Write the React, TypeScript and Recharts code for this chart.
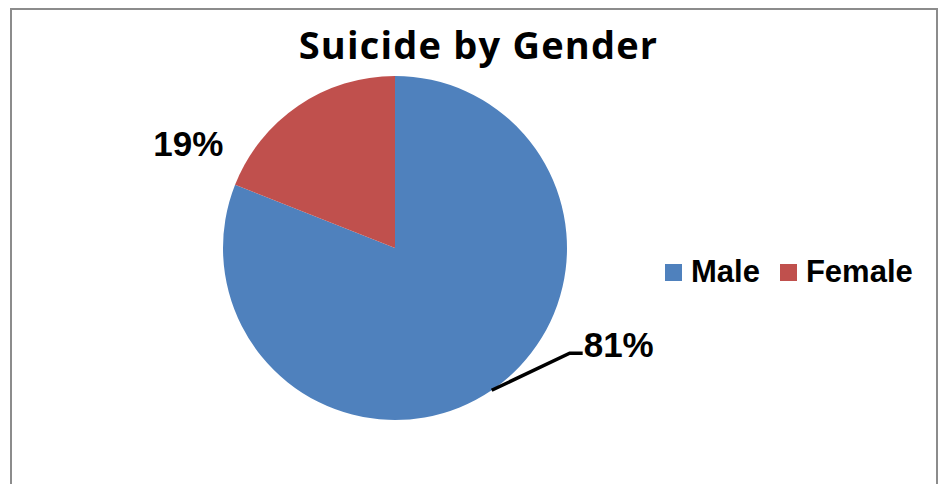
import React from "react";
import { PieChart, Pie, Cell, Legend } from "recharts";

const categories = ["Male", "Female"];
const shares = [81, 19];
const colors = ["#4F81BD", "#C0504D"];
const title = "Suicide by Gender";

const data = categories.map((name, i) => ({ name, value: shares[i] }));

const RAD = Math.PI / 180;
const labelFont = { fontFamily: "Liberation Sans, Arial, sans-serif", fontWeight: 700, fontSize: 35 };

const renderLabel = (props: any) => {
  const { cx, cy, midAngle, outerRadius, index, value } = props;
  const ax = cx + outerRadius * Math.cos(-midAngle * RAD);
  const ay = cy + outerRadius * Math.sin(-midAngle * RAD);
  const text = `${value}%`;
  if (index === 0) {
    const bx = ax + 78;
    const by = ay - 37;
    return (
      <g>
        <polyline points={`${ax},${ay} ${bx},${by} ${bx + 13},${by}`} fill="none" stroke="#000" strokeWidth={3.5} />
        <text x={bx + 14} y={by + 4} fill="#000" textAnchor="start" style={labelFont}>
          {text}
        </text>
      </g>
    );
  }
  return (
    <text x={ax - 75} y={ay + 50} fill="#000" textAnchor="end" style={labelFont}>
      {text}
    </text>
  );
};

const LegendContent = () => {
  return (
    <div style={{ display: "flex", alignItems: "center", fontFamily: "Liberation Sans, Arial, sans-serif", fontWeight: 700, fontSize: 31, color: "#000", lineHeight: "34px" }}>
      {categories.map((c, i) => (
        <div key={c} style={{ display: "flex", alignItems: "center", marginRight: 20 }}>
          <div style={{ width: 17, height: 17, background: colors[i], marginRight: 9 }} />
          <span>{c}</span>
        </div>
      ))}
    </div>
  );
};

export default function App() {
  return (
    <div style={{ position: "absolute", left: 0, top: 0, width: 942, height: 484, background: "#fff", overflow: "hidden" }}>
      <div
        style={{
          position: "absolute",
          left: 10,
          top: 8,
          width: 928,
          height: 600,
          border: "2px solid #8c8c8c",
          boxSizing: "border-box",
        }}
      />
      <div
        style={{
          position: "absolute",
          left: 0,
          top: 19,
          width: 957,
          textAlign: "center",
          fontFamily: "'Open Sans', Lato, sans-serif",
          fontWeight: 700,
          fontSize: 38,
          letterSpacing: 1.2,
          color: "#000",
          lineHeight: "50px",
        }}
      >
        {title}
      </div>
      <div style={{ position: "absolute", left: 0, top: 0 }}>
        <PieChart width={942} height={484} margin={{ top: 0, right: 0, bottom: 0, left: 0 }}>
          <Pie
            data={data}
            dataKey="value"
            nameKey="name"
            cx={395}
            cy={248}
            outerRadius={172}
            startAngle={90}
            endAngle={-270}
            stroke="none"
            label={renderLabel}
            labelLine={false}
            isAnimationActive={false}
          >
            {data.map((d, i) => (
              <Cell key={d.name} fill={colors[i]} />
            ))}
          </Pie>
          <Legend
            content={<LegendContent />}
            layout="horizontal"
            wrapperStyle={{ position: "absolute", left: 665, top: 255, width: 280 }}
          />
        </PieChart>
      </div>
    </div>
  );
}
